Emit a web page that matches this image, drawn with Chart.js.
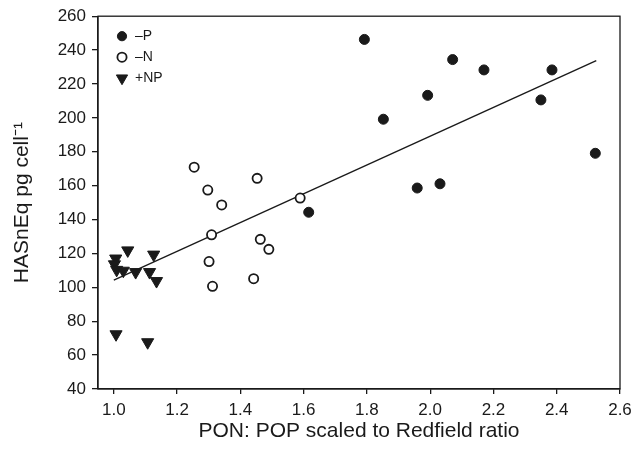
<!DOCTYPE html>
<html>
<head>
<meta charset="utf-8">
<script src="https://cdn.jsdelivr.net/npm/chart.js@4/dist/chart.umd.min.js"></script>
<style>
  html, body { margin: 0; padding: 0; background: #fff; }
</style>
</head>
<body>
<canvas id="chart" width="641" height="452"></canvas>
<script>
// -P (filled circles)
const minusPX = [1.792, 2.071, 2.170, 2.385, 1.992, 1.852, 2.350, 2.522, 1.959, 2.031, 1.616];
const minusPY = [246.3, 234.4, 228.3, 228.3, 213.3, 199.2, 210.6, 179.1, 158.6, 161.1, 144.3];
// -N (open circles)
const minusNX = [1.254, 1.453, 1.297, 1.341, 1.309, 1.589, 1.463, 1.490, 1.301, 1.312, 1.442];
const minusNY = [170.9, 164.3, 157.4, 148.6, 131.0, 152.7, 128.3, 122.4, 115.2, 100.6, 105.1];
// +NP (down triangles)
const plusNPX = [1.006, 1.002, 1.009, 1.030, 1.044, 1.069, 1.113, 1.126, 1.135, 1.007, 1.107];
const plusNPY = [117.0, 113.6, 110.3, 109.8, 121.8, 109.0, 109.0, 119.3, 103.7, 72.3, 67.6];
// regression line end points
const fitX = [1.0, 2.525];
const fitY = [104.3, 233.8];

const xTicks = [1.0, 1.2, 1.4, 1.6, 1.8, 2.0, 2.2, 2.4, 2.6];
const yTicks = [40, 60, 80, 100, 120, 140, 160, 180, 200, 220, 240, 260];
const legendLabels = ['\u2013P', '\u2013N', '+NP'];

const FONT = "'Liberation Sans', Arial, Helvetica, sans-serif";
const INK = '#1a1a1a';

function pts(xs, ys) {
    return xs.map((x, i) => ({x: x, y: ys[i]}));
}

const datasets = [
    {label: legendLabels[0], data: pts(minusPX, minusPY), pointStyle: 'circle', pointRadius: 5,
     backgroundColor: INK, borderColor: INK, borderWidth: 1},
    {label: legendLabels[1], data: pts(minusNX, minusNY), pointStyle: 'circle', pointRadius: 4.6,
     backgroundColor: '#fff', borderColor: INK, borderWidth: 1.8},
    {label: legendLabels[2], data: pts(plusNPX, plusNPY), pointStyle: 'triangle', pointRadius: 7,
     rotation: 180, backgroundColor: INK, borderColor: INK, borderWidth: 1},
    {label: 'fit', type: 'line', data: pts(fitX, fitY), showLine: true, pointRadius: 0,
     borderColor: INK, borderWidth: 1.4, fill: false}
];

// frame around the plot + legend inside the top-left corner
const framePlugin = {
    id: 'frame',
    afterDatasetsDraw(chart) {
        const ctx = chart.ctx;
        const a = chart.chartArea;
        ctx.save();
        ctx.strokeStyle = INK;
        ctx.lineWidth = 1.3;
        ctx.strokeRect(a.left, a.top, a.right - a.left, a.bottom - a.top);

        ctx.font = '14px ' + FONT;
        ctx.textBaseline = 'middle';
        ctx.textAlign = 'left';
        for (let i = 0; i < 3; i++) {
            const ds = chart.data.datasets[i];
            const y = a.top + 20 + i * 21;
            const x = a.left + 24;
            ctx.fillStyle = ds.backgroundColor;
            ctx.strokeStyle = ds.borderColor;
            ctx.lineWidth = ds.borderWidth;
            Chart.helpers.drawPoint(ctx, {pointStyle: ds.pointStyle, radius: i === 2 ? 6.5 : 4.6,
                rotation: ds.rotation || 0, borderWidth: ds.borderWidth}, x, y);
            ctx.fillStyle = INK;
            ctx.fillText(ds.label, x + 13, y);
        }
        ctx.restore();
    }
};

new Chart(document.getElementById('chart'), {
    type: 'scatter',
    data: {datasets: datasets},
    options: {
        responsive: false,
        animation: false,
        devicePixelRatio: 1,
        layout: {padding: {top: 13, right: 21, left: 0, bottom: 0}},
        plugins: {legend: {display: false}, tooltip: {enabled: false}},
        scales: {
            x: {
                type: 'linear',
                min: 0.95,
                max: 2.6,
                afterBuildTicks(scale) { scale.ticks = xTicks.map(v => ({value: v})); },
                afterFit(scale) { scale.height = 63; },
                ticks: {
                    color: INK,
                    font: {family: FONT, size: 17},
                    padding: 6,
                    maxRotation: 0,
                    callback: v => v.toFixed(1)
                },
                grid: {drawOnChartArea: false, color: INK, tickLength: 5, lineWidth: 1.3},
                border: {color: INK, width: 1.3},
                title: {
                    display: true,
                    text: 'PON: POP scaled to Redfield ratio',
                    color: INK,
                    font: {family: FONT, size: 21},
                    padding: {top: 0, bottom: 8}
                }
            },
            y: {
                type: 'linear',
                min: 40,
                max: 260,
                afterBuildTicks(scale) { scale.ticks = yTicks.map(v => ({value: v})); },
                afterFit(scale) { scale.width = 98; },
                ticks: {
                    color: INK,
                    font: {family: FONT, size: 17},
                    padding: 6
                },
                grid: {drawOnChartArea: false, color: INK, tickLength: 6, lineWidth: 1.3},
                border: {color: INK, width: 1.3},
                title: {
                    display: true,
                    text: 'HASnEq pg cell\u207B\u00B9',
                    color: INK,
                    font: {family: FONT, size: 21},
                    padding: {top: 10, bottom: 0}
                }
            }
        }
    },
    plugins: [framePlugin]
});
</script>
</body>
</html>
